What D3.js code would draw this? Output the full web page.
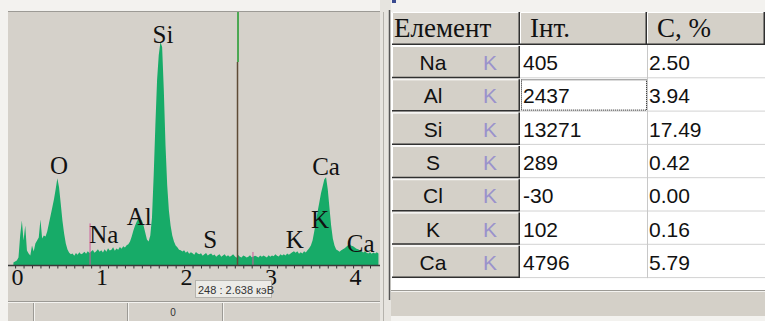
<!DOCTYPE html>
<html><head><meta charset="utf-8">
<script src="https://cdn.jsdelivr.net/npm/d3@7"></script>
<style>html,body{margin:0;padding:0;background:#f3f2ef;overflow:hidden}</style>
</head><body><svg id="c" width="765" height="321"></svg>
<script>
// ---------- DATA ----------
const energyStart = -0.02, energyStep = 0.02; // keV per channel of the counts array
const counts = [
 30,40,50,80,300,450,250,400,150,120,100,200,140,220,250,280,460,270,300,290,
 340,420,500,580,660,760,870,780,620,450,320,220,160,128,112,121,98,126,108,133,
 112,119,137,118,142,126,139,155,128,141,163,137,151,129,162,138,171,149,158,183,
 148,169,157,184,168,192,179,203,212,240,290,350,400,440,470,460,450,400,330,260,
 240,300,480,900,1400,1850,2100,2230,2180,1750,1200,800,550,400,300,240,200,182,158,151,
 139,152,128,143,118,131,122,108,134,119,112,123,98,113,124,101,112,121,99,111,
 88,102,113,87,99,112,91,103,88,98,112,92,78,104,87,81,99,92,79,88,
 103,82,91,98,89,79,101,88,99,90,81,102,88,101,92,112,98,89,113,101,
 112,99,121,108,119,131,142,128,141,118,132,119,141,129,152,171,200,250,340,440,
 540,630,720,790,860,880,760,580,400,270,200,160,150,138,152,161,172,188,201,212,
 198,191,179,168,161,149,141,129,142,128,119,131,118,129,121,132,119
];
const tickValues = [0, 1, 2, 3, 4];
const peakLabels = [
 {name:"O",  energy:0.52, count:910},
 {name:"Na", energy:1.05, count:220},
 {name:"Al", energy:1.47, count:400},
 {name:"Si", energy:1.75, count:2220},
 {name:"S",  energy:2.31, count:170},
 {name:"K",  energy:3.31, count:170},
 {name:"K",  energy:3.61, count:370},
 {name:"Ca", energy:3.68, count:900},
 {name:"Ca", energy:4.09, count:130}
];
const markers = [{energy:0.887, count:420}, {energy:2.815, count:135}];
const cursorChannel = 248, cursorEnergy = 2.638;
const statusText = "0";

const headers = ["Елемент", "Інт.", "C, %"];
const elements = ["Na", "Al", "Si", "S", "Cl", "K", "Ca"];
const lines = ["K", "K", "K", "K", "K", "K", "K"];
const intensities = [405, 2437, 13271, 289, -30, 102, 4796];
const concentrations = ["2.50", "3.94", "17.49", "0.42", "0.00", "0.16", "5.79"];
const focusedRow = 1;

// ---------- DRAW ----------
const svg = d3.select("#c");
const serif = "'Liberation Serif','Times New Roman',serif";
const sans = "'Liberation Sans',Arial,sans-serif";
const panelBg = "#d5d1ca";

// left panel
const PL = 8, PR = 380, PT = 12, AX = 265.5;
svg.append("rect").attr("x",PL).attr("y",PT).attr("width",PR-PL).attr("height",309).attr("fill",panelBg);
svg.append("line").attr("x1",PL).attr("x2",PR).attr("y1",11.5).attr("y2",11.5).attr("stroke","#9c9a95");

const x = d3.scaleLinear().domain([0, 4.3]).range([15.1, 15.1 + 4.3*84.5]);
const y = d3.scaleLinear().domain([0, 2530]).range([AX, PT]);

svg.append("clipPath").attr("id","pc").append("rect").attr("x",PL).attr("y",PT).attr("width",PR-PL).attr("height",AX-PT);
const area = d3.area()
  .x((d,i)=>x(energyStart + i*energyStep))
  .y0(y(0)).y1(d=>y(d));
svg.append("path").datum(counts).attr("d",area).attr("fill","#17ab68").attr("clip-path","url(#pc)");

// markers
svg.selectAll(".mk").data(markers).join("line")
  .attr("x1",d=>x(d.energy)).attr("x2",d=>x(d.energy))
  .attr("y1",d=>y(d.count)).attr("y2",AX)
  .attr("stroke","#cc5a9a").attr("stroke-width",1);

// axis
const axis = d3.axisBottom(x).tickValues(d3.range(0,43).map(i=>i/10)).tickSize(3).tickFormat("");
const ag = svg.append("g").attr("transform",`translate(0,${AX})`).call(axis);
ag.select(".domain").remove();
ag.selectAll(".tick line").attr("stroke","#333");
svg.append("line").attr("x1",PL).attr("x2",PR).attr("y1",AX).attr("y2",AX).attr("stroke","#3a3a3a").attr("stroke-width",1.5);
svg.selectAll(".tl").data(tickValues).join("text")
  .attr("x",d=>x(d)+2.3).attr("y",285).attr("text-anchor","middle")
  .attr("font-family",serif).attr("font-size",24).attr("fill","#111").text(d=>d);

// peak labels
svg.selectAll(".pl").data(peakLabels).join("text")
  .attr("x",d=>x(d.energy)).attr("y",d=>y(d.count)).attr("text-anchor","middle")
  .attr("font-family",serif).attr("font-size",25).attr("fill","#111").text(d=>d.name);

// cursor
const cx = x(cursorEnergy);
svg.append("line").attr("x1",cx).attr("x2",cx).attr("y1",PT).attr("y2",62).attr("stroke","#1f9a2c").attr("stroke-width",1.5);
svg.append("line").attr("x1",cx-0.5).attr("x2",cx-0.5).attr("y1",62).attr("y2",AX).attr("stroke","#5e4b36").attr("stroke-width",1.5);

// tooltip
svg.append("rect").attr("x",195.5).attr("y",280.5).attr("width",76).attr("height",17).attr("fill","#ecebe7").attr("stroke","#b5b3ae");
svg.append("text").attr("x",198).attr("y",293.5).attr("font-family",sans).attr("font-size",11).attr("fill","#333")
  .text(`${cursorChannel} : ${cursorEnergy} кэВ`);

// status bar
svg.append("line").attr("x1",PL).attr("x2",PR).attr("y1",301.5).attr("y2",301.5).attr("stroke","#9c9a95");
svg.append("line").attr("x1",PL).attr("x2",PR).attr("y1",302.5).attr("y2",302.5).attr("stroke","#f4f3f0");
[33,127,222].forEach(v=>{
  svg.append("line").attr("x1",v+0.5).attr("x2",v+0.5).attr("y1",303).attr("y2",321).attr("stroke","#9c9a95");
  svg.append("line").attr("x1",v+1.5).attr("x2",v+1.5).attr("y1",303).attr("y2",321).attr("stroke","#f4f3f0");
});
svg.append("text").attr("x",173).attr("y",316).attr("text-anchor","middle").attr("font-family",sans).attr("font-size",10).attr("fill","#333").text(statusText);

// separator strip
svg.append("rect").attr("x",380).attr("y",0).attr("width",11).attr("height",321).attr("fill","#e6e4df");
svg.append("line").attr("x1",383.5).attr("x2",383.5).attr("y1",12).attr("y2",321).attr("stroke","#b5b3ad");

// ---------- TABLE ----------
const TL = 391, colX = [392, 520, 647, 765], HT = 12, HB = 45, RH = 33.3;
svg.append("rect").attr("x",TL).attr("y",HT).attr("width",765-TL).attr("height",278-HT).attr("fill","#fff");
svg.append("rect").attr("x",TL).attr("y",278).attr("width",765-TL).attr("height",12).attr("fill","#fff");
svg.append("line").attr("x1",389.5).attr("x2",389.5).attr("y1",HT-2).attr("y2",300).attr("stroke","#555").attr("stroke-width",1.5);
svg.append("rect").attr("x",392).attr("y",0).attr("width",4).attr("height",3).attr("fill","#3a4a90");

function button(g, x0, y0, w, h){
  g.append("rect").attr("x",x0).attr("y",y0).attr("width",w).attr("height",h).attr("fill","#d4d0c8");
  g.append("path").attr("d",`M${x0+0.5},${y0+h-1}V${y0+0.5}H${x0+w-1}`).attr("stroke","#fff").attr("fill","none");
  g.append("path").attr("d",`M${x0},${y0+h-0.75}H${x0+w-0.75}V${y0}`).attr("stroke","#303030").attr("stroke-width",1.5).attr("fill","none");
}

// header
const hg = svg.append("g");
headers.forEach((h,i)=>{
  button(hg, colX[i], HT, colX[i+1]-colX[i], HB-HT);
  hg.append("text").attr("x",colX[i]+2+(i>0?8:0)).attr("y",37).attr("font-family",serif).attr("font-size",27).attr("fill","#111").text(h);
});

// rows
const rows = elements.map((e,i)=>({el:e, line:lines[i], int:intensities[i], c:concentrations[i], i}));
const rg = svg.append("g");
rows.forEach(r=>{
  const top = HB + r.i*RH;
  // grid lines
  rg.append("line").attr("x1",colX[1]).attr("x2",765).attr("y1",top+RH-0.5).attr("y2",top+RH-0.5).attr("stroke","#d2d2d2");
  button(rg, colX[0], top+1, colX[1]-colX[0], RH-1);
  rg.append("text").attr("x",433).attr("y",top+25).attr("text-anchor","middle").attr("font-family",sans).attr("font-size",21).attr("fill","#111").text(r.el);
  rg.append("text").attr("x",483).attr("y",top+25).attr("font-family",sans).attr("font-size",21).attr("fill","#9a92cc").text(r.line);
  rg.append("text").attr("x",523).attr("y",top+25).attr("font-family",sans).attr("font-size",21).attr("fill","#111").text(r.int);
  rg.append("text").attr("x",649).attr("y",top+25).attr("font-family",sans).attr("font-size",21).attr("fill","#111").text(r.c);
  if (r.i === focusedRow){
    rg.append("rect").attr("x",521.5).attr("y",top+1.5).attr("width",125).attr("height",RH-3)
      .attr("fill","none").attr("stroke","#111").attr("stroke-dasharray","1,1");
  }
});
rg.append("line").attr("x1",colX[2]+0.5).attr("x2",colX[2]+0.5).attr("y1",HB).attr("y2",HB+elements.length*RH).attr("stroke","#c8c8c8");

// bottom grey band
svg.append("rect").attr("x",TL).attr("y",290).attr("width",765-TL).attr("height",26).attr("fill","#d4d0c8");
svg.append("line").attr("x1",TL).attr("x2",765).attr("y1",290.5).attr("y2",290.5).attr("stroke","#9c9a95");
svg.append("line").attr("x1",TL).attr("x2",765).attr("y1",291.5).attr("y2",291.5).attr("stroke","#f4f3f0");
svg.append("rect").attr("x",TL).attr("y",316).attr("width",765-TL).attr("height",5).attr("fill","#f3f2ef");
</script></body></html>
